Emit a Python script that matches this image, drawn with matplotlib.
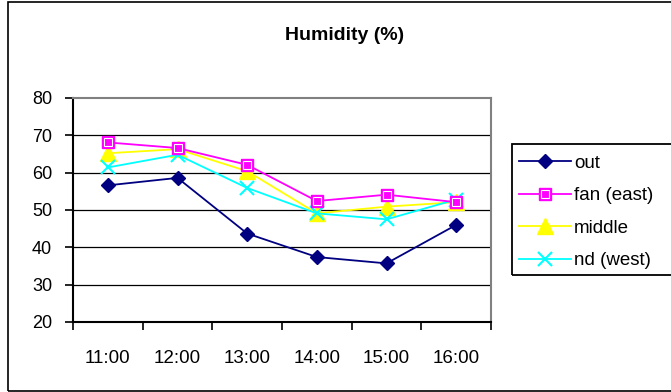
import matplotlib
matplotlib.use("Agg")
import matplotlib.pyplot as plt
import matplotlib.patches as patches
import numpy as np

plt.rcParams['font.family'] = ['Liberation Sans', 'DejaVu Sans']

# Data
times = ["11:00", "12:00", "13:00", "14:00", "15:00", "16:00"]
out = [56.6, 58.6, 43.7, 37.4, 35.7, 46.0]
fan_east = [68.1, 66.6, 62.1, 52.4, 54.1, 52.1]
middle = [65.2, 66.3, 60.4, 49.1, 50.9, 52.1]
nd_west = [61.4, 64.8, 55.9, 49.1, 47.5, 52.8]
y_ticks = [20, 30, 40, 50, 60, 70, 80]

W, H = 671, 392
fig = plt.figure(figsize=(W / 100, H / 100), dpi=100)
ax = fig.add_axes([73 / W, 1 - 322 / H, (491 - 73) / W, (322 - 98) / H])

# outer chart border (right side runs off the picture)
fig.patches.append(patches.Rectangle((8 / W, 1 / H), 1.1, 1 - 3 / H, transform=fig.transFigure,
                                     fill=False, edgecolor="black", linewidth=1.2))

x = np.arange(len(times)) + 0.5

for v in y_ticks[1:-1]:
    ax.axhline(v, color="black", linewidth=0.9, zorder=1)

h_out, = ax.plot(x, out, color="#000080", marker="D", markersize=7.5, linewidth=1.3, zorder=3)
h_fan, = ax.plot(x, fan_east, color="#FF00FF", marker="s", markersize=9, linewidth=1.3, zorder=4)
h_fan2, = ax.plot(x, fan_east, linestyle="none", marker="s", markersize=5.5, markerfacecolor="none",
                  markeredgecolor="white", markeredgewidth=0.8, zorder=4)
h_mid, = ax.plot(x, middle, color="#FFFF00", marker="^", markersize=11, linewidth=1.3, zorder=3)
h_nd, = ax.plot(x, nd_west, color="#00FFFF", marker="x", markersize=10, markeredgewidth=1.5,
                linewidth=1.3, zorder=3)

ax.set_xlim(0, len(times))
ax.set_ylim(20, 80)
ax.set_yticks(y_ticks)
ax.set_xticks(np.arange(len(times) + 1))
ax.set_xticklabels([])
ax.set_xticks(x, minor=True)
ax.set_xticklabels(times, minor=True)
ax.tick_params(axis="x", which="major", direction="out", length=6, width=1.2)
ax.tick_params(axis="x", which="minor", length=0, pad=20, labelsize=13.5)
ax.tick_params(axis="y", direction="out", length=6, width=1.2, pad=9, labelsize=13)

for s in ["left", "bottom"]:
    ax.spines[s].set_linewidth(1.5)
    ax.spines[s].set_color("black")
for s in ["top", "right"]:
    ax.spines[s].set_linewidth(1.5)
    ax.spines[s].set_color("#808080")

fig.text(345 / W, 1 - 36 / H, "Humidity (%)", ha="center", va="center", fontsize=14, fontweight="bold")

# legend box (right side runs off the picture)
fig.patches.append(patches.Rectangle((512 / W, 1 - 275 / H), 0.5, (275 - 144) / H,
                                     transform=fig.transFigure, fill=False,
                                     edgecolor="black", linewidth=1.3))
fig.legend([h_out, (h_fan, h_fan2), h_mid, h_nd], ["out", "fan (east)", "middle", "nd (west)"],
           loc="upper left", bbox_to_anchor=(515 / W, 1 - 151 / H), frameon=False,
           fontsize=13.5, handlelength=2.8, handletextpad=0.15, labelspacing=0.82,
           borderaxespad=0, borderpad=0.2)

fig.savefig("out.png", dpi=100)
